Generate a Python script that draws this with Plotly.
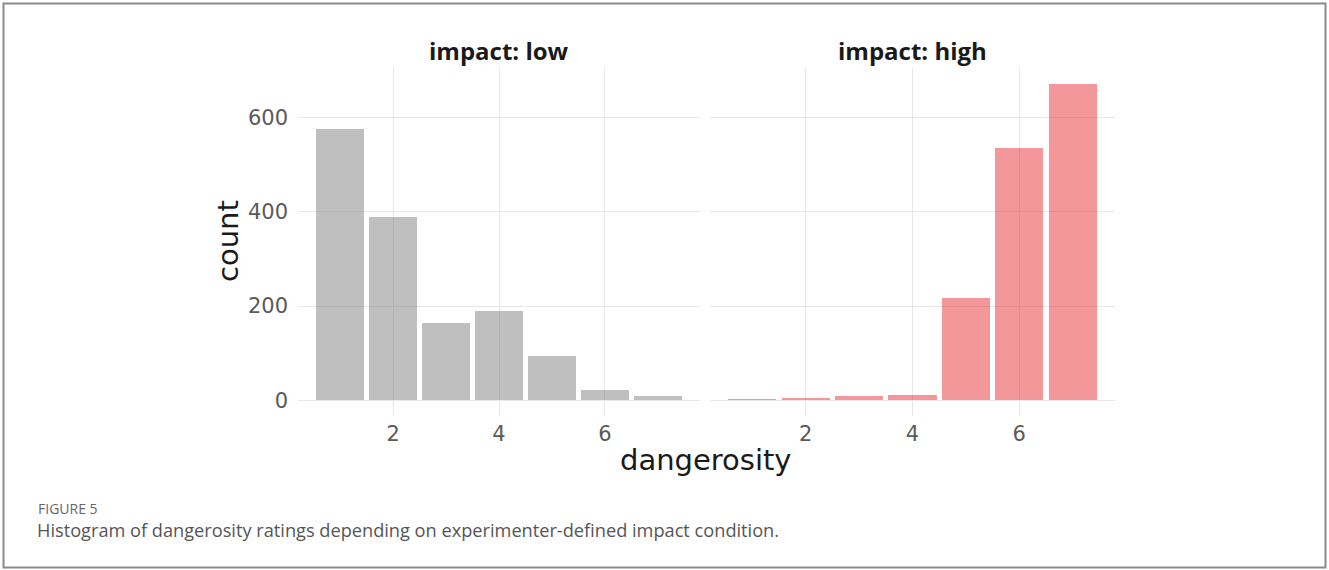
import plotly.graph_objects as go

W, H = 1329, 570

ratings = [1, 2, 3, 4, 5, 6, 7]
count_low = [577, 389, 164, 189, 94, 21, 9]
count_high = [2, 4, 8, 10, 217, 536, 672]
x_ticks = [2, 4, 6]
y_ticks = [0, 200, 400, 600]
panel_titles = ["impact: low", "impact: high"]

TICK_FONT = dict(family="DejaVu Sans", size=21, color="#5a5a5a")
GRID = "#e8e8e8"

def px(x):
    return x / W

def py(y):
    return 1 - y / H

fig = go.Figure()
fig.add_trace(go.Bar(x=ratings, y=count_low, width=0.9,
                     marker=dict(color="rgba(127,127,127,0.5)", line=dict(width=0)),
                     xaxis="x", yaxis="y", showlegend=False))
fig.add_trace(go.Bar(x=ratings, y=count_high, width=0.9,
                     marker=dict(color="rgba(233,47,53,0.5)", line=dict(width=0)),
                     xaxis="x2", yaxis="y2", showlegend=False))

xr = [0.205, 7.795]
yr = [-33.6, 705.6]
ydom = [py(416), py(68)]
common_x = dict(range=xr, tickvals=x_ticks, showgrid=True, gridcolor=GRID, gridwidth=1.4,
                zeroline=False, showline=False, ticks="", tickfont=TICK_FONT, ticklabelstandoff=3)
fig.update_layout(
    width=W, height=H, margin=dict(l=0, r=0, t=0, b=0),
    paper_bgcolor="white", plot_bgcolor="white", bargap=0,
    xaxis=dict(domain=[px(298), px(700)], anchor="y", **common_x),
    xaxis2=dict(domain=[px(710), px(1115)], anchor="y2", **common_x),
    yaxis=dict(domain=ydom, range=yr, tickvals=y_ticks, showgrid=True, gridcolor=GRID, gridwidth=1.4,
               zeroline=False, showline=False, ticks="", tickfont=TICK_FONT, anchor="x", ticklabelstandoff=9),
    yaxis2=dict(domain=ydom, range=yr, tickvals=y_ticks, showgrid=True, gridcolor=GRID, gridwidth=1.4,
                zeroline=False, showline=False, ticks="", showticklabels=False, anchor="x2"),
)

def A(text, x, y, size, family="Open Sans", color="#1a1a1a", xanchor="center", angle=0):
    return dict(text=text, x=px(x), y=py(y), xref="paper", yref="paper", showarrow=False,
                xanchor=xanchor, yanchor="middle", textangle=angle,
                font=dict(family=family, size=size, color=color))

ann = [
    A("<b>" + panel_titles[0] + "</b>", 499, 50, 24),
    A("<b>" + panel_titles[1] + "</b>", 912, 50, 24),
    A("count", 228, 241, 29, family="DejaVu Sans", angle=-90),
    A("dangerosity", 706, 460, 29, family="DejaVu Sans"),
    A("FIGURE 5", 36, 508, 14, color="#666666", xanchor="left"),
    A("Histogram of dangerosity ratings depending on experimenter-defined impact condition.",
      35, 530, 18.2, color="#555555", xanchor="left"),
]
fig.update_layout(annotations=ann)

fig.add_shape(type="rect", xref="paper", yref="paper", x0=px(3.5), x1=px(1325.5), y0=py(567.5), y1=py(3.5),
              line=dict(color="#8a8a8a", width=2), fillcolor="rgba(0,0,0,0)", layer="below")

fig.write_html("out.html")
